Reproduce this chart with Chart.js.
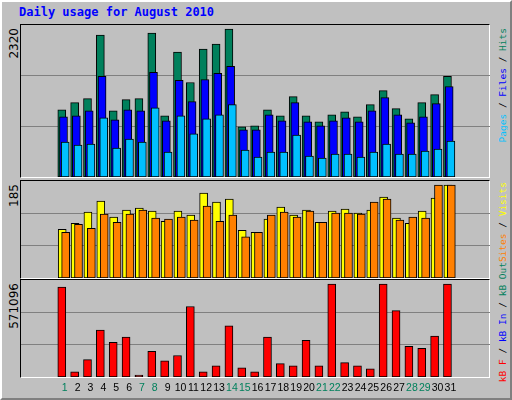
<!DOCTYPE html>
<html>
<head>
<meta charset="utf-8">
<script src="https://cdn.jsdelivr.net/npm/chart.js@4/dist/chart.umd.min.js"></script>
<style>
  body { margin: 0; background: #fff; }
  #frame { position: absolute; left: 0; top: 0; width: 508px; height: 396px; background: #c0c0c0;
           border-top: 2px solid #fff; border-left: 2px solid #fff; border-right: 2px solid #808080; border-bottom: 2px solid #808080; }
  .panel { position: absolute; left: 20px; width: 470px; box-sizing: border-box;
           border-top: 1px solid #000; border-left: 1px solid #000; border-right: 1px solid #fff; border-bottom: 1px solid #fff; }
  canvas { position: absolute; }
  .vt { position: absolute; writing-mode: vertical-rl; transform: rotate(180deg); white-space: nowrap; }
  .lab { font: 12px "DejaVu Sans", sans-serif; color: #000; left: 7px; }
  .leg { font: 9.5px "DejaVu Sans Mono", monospace; left: 497px; }
  #title { position: absolute; left: 19px; top: 5px; font: bold 12px "DejaVu Sans Mono", monospace; color: #0000ff; }
</style>
</head>
<body>
<div id="frame"></div>
<div id="title">Daily usage for August 2010</div>
<div class="panel" style="top:24px;height:154px"></div>
<div class="panel" style="top:180px;height:99px"></div>
<div class="panel" style="top:279px;height:99px"></div>
<canvas id="c1" style="left:21px;top:25px" width="469" height="152"></canvas>
<canvas id="c2" style="left:21px;top:181px" width="469" height="97"></canvas>
<canvas id="c3" style="left:21px;top:280px" width="469" height="120"></canvas>

<div class="vt lab" style="top:28px">2320</div>
<div class="vt lab" style="top:184px">185</div>
<div class="vt lab" style="top:283px">571096</div>
<div class="vt leg" style="top:28px"><span style="color:#00c0ff">Pages</span> / <span style="color:#0000ff">Files</span> / <span style="color:#00805c">Hits</span></div>
<div class="vt leg" style="top:182px"><span style="color:#ff8000">Sites</span> / <span style="color:#ffff00">Visits</span></div>
<div class="vt leg" style="top:262px"><span style="color:#ff0000">kB F</span> / <span style="color:#0000ff">kB In</span> / <span style="color:#00805c">kB Out</span></div>

<script>
const days = Array.from({length: 31}, (_, i) => i + 1);
const weekends = [1, 7, 8, 14, 15, 21, 22, 28, 29];

const hits = [1031, 1139, 1201, 2176, 1016, 1186, 1201, 2207, 938, 1913, 1449, 1959, 2037, 2269, 768, 784,
              1031, 938, 1232, 938, 846, 954, 1000, 923, 1109, 1325, 1047, 892, 1139, 1263, 1542];
const files = [923, 938, 1016, 1542, 877, 1031, 1016, 1604, 861, 1480, 1155, 1495, 1588, 1696, 722, 722,
               954, 861, 1139, 846, 784, 861, 907, 846, 1016, 1217, 954, 830, 923, 1124, 1387];
const pages = [536, 490, 505, 907, 443, 583, 536, 1062, 382, 938, 660, 892, 954, 1109, 412, 304,
               382, 382, 644, 320, 289, 351, 351, 304, 382, 505, 351, 351, 397, 428, 552];
const visits = [97, 109, 131, 153, 121, 135, 139, 133, 113, 133, 125, 169, 151, 157, 95, 91,
                117, 141, 125, 135, 111, 133, 137, 129, 135, 161, 119, 109, 133, 159, 185];
const sites = [91, 107, 99, 127, 111, 127, 135, 119, 117, 121, 115, 143, 113, 125, 82, 91,
               125, 131, 121, 133, 111, 129, 129, 127, 151, 157, 115, 121, 119, 185, 185];
const kbytes = [552000, 31000, 107000, 289000, 213000, 245000, 12500, 157000, 100000, 132000, 433000, 31000, 69000, 314000, 56000, 31000,
                245000, 82000, 69000, 226000, 69000, 571096, 88000, 69000, 50000, 571096, 408000, 188000, 176000, 251000, 571096];

function series(values, offset, color, order) {
    return {
        data: values.map((v, i) => ({x: days[i] + offset, y: v})),
        backgroundColor: color,
        borderColor: '#000',
        borderWidth: 1,
        borderSkipped: false,
        barThickness: 8,
        grouped: false,
        order: order
    };
}

function makeChart(id, datasets, yMax, bottomPad, extraPlugins) {
    return new Chart(document.getElementById(id), {
        type: 'bar',
        data: {datasets: datasets},
        options: {
            responsive: false,
            animation: false,
            layout: {padding: {left: 0, right: 0, top: 0, bottom: bottomPad}},
            plugins: {legend: {display: false}, tooltip: {enabled: false}},
            scales: {
                x: {type: 'linear', min: 0.5, max: 31.77, display: false},
                y: {
                    min: 0, max: yMax,
                    ticks: {display: false},
                    border: {display: false},
                    grid: {color: '#808080', lineWidth: 1, drawTicks: false},
                    afterBuildTicks: axis => { axis.ticks = [{value: yMax / 3}, {value: yMax * 2 / 3}]; }
                }
            }
        },
        plugins: extraPlugins || []
    });
}

const dayLabels = {
    id: 'dayLabels',
    afterDraw(chart) {
        const ctx = chart.ctx;
        const x = chart.scales.x;
        ctx.save();
        ctx.font = '10.5px "Liberation Sans", sans-serif';
        ctx.textAlign = 'center';
        ctx.textBaseline = 'middle';
        days.forEach(d => {
            ctx.fillStyle = weekends.includes(d) ? '#00805c' : '#000';
            ctx.fillText(String(d), x.getPixelForValue(d + 0.3), chart.chartArea.bottom + 11);
        });
        ctx.restore();
    }
};

makeChart('c1', [
    series(hits, 0.067, '#00805c', 3),
    series(files, 0.2, '#0000ff', 2),
    series(pages, 0.333, '#00c0ff', 1)
], 2330, 0);

makeChart('c2', [
    series(visits, 0.1, '#ffff00', 2),
    series(sites, 0.367, '#ff8000', 1)
], 193, 0);

makeChart('c3', [
    series(kbytes, 0.067, '#ff0000', 1)
], 596000, 23, [dayLabels]);
</script>
</body>
</html>
